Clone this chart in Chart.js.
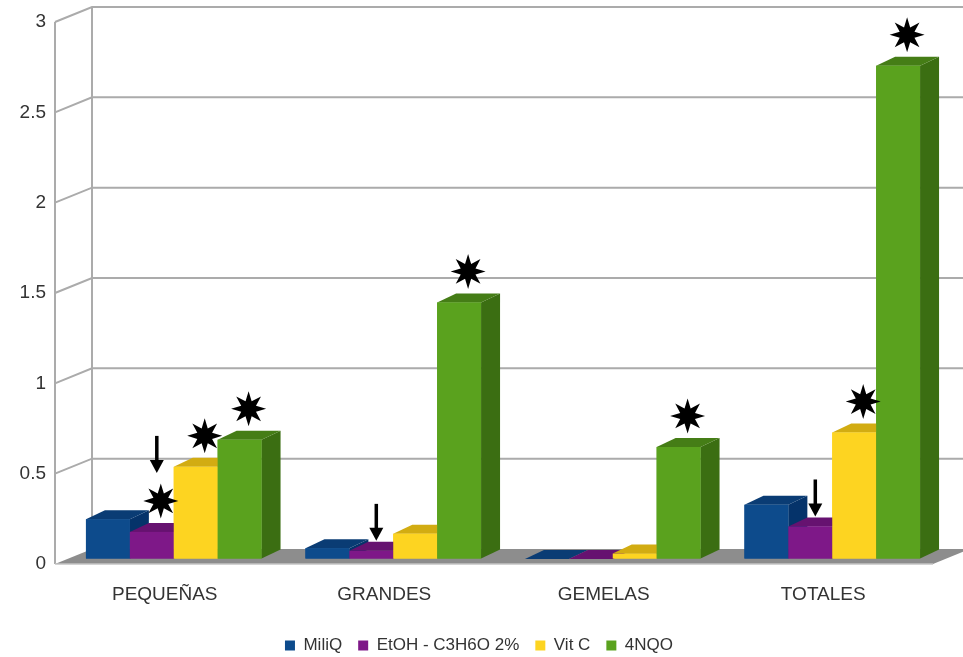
<!DOCTYPE html>
<html lang="es">
<head>
<meta charset="UTF-8" />
<title>Recuento por tipo</title>
<style>
  body { margin: 0; background: #fff; }
  #wrap { width: 963px; height: 657px; }
</style>
</head>
<body>
<div id="wrap"><canvas id="barChart" width="963" height="657"></canvas></div>
<script src="https://cdn.jsdelivr.net/npm/chart.js"></script>
<script>
const categories = ["PEQUEÑAS", "GRANDES", "GEMELAS", "TOTALES"];
const seriesNames = ["MiliQ", "EtOH - C3H6O 2%", "Vit C", "4NQO"];
const miliQ = [0.22, 0.06, 0, 0.30];
const etoh = [0.15, 0.045, 0, 0.18];
const vitC = [0.51, 0.14, 0.03, 0.70];
const nqo = [0.66, 1.42, 0.62, 2.73];
const yTicks = [0, 0.5, 1, 1.5, 2, 2.5, 3];

// significance marks, [series][category]
const starMarks = [[0, 0, 0, 0], [1, 0, 0, 0], [1, 0, 0, 1], [1, 1, 1, 1]];
const arrowMarks = [[0, 0, 0, 0], [1, 1, 0, 1], [0, 0, 0, 0], [0, 0, 0, 0]];

// front / side / top colours of each box
const faces = [
  { front: "#0d4b8c", side: "#05336a", top: "#0a3c74" },
  { front: "#7e1888", side: "#580e60", top: "#661270" },
  { front: "#fdd421", side: "#c8a20c", top: "#d2ac12" },
  { front: "#5aa21e", side: "#3b6e12", top: "#457d16" },
];

const DEPTH = { x: 19, y: -9 };  // box depth
const FRONT = { x: -9, y: 5 };   // front edge of the floor, relative to the bar plane
const BACK = { x: 28, y: -10 };  // back wall, relative to the bar plane

function poly(ctx, pts, color) {
  ctx.fillStyle = color;
  ctx.beginPath();
  ctx.moveTo(pts[0][0], pts[0][1]);
  for (let i = 1; i < pts.length; i++) ctx.lineTo(pts[i][0], pts[i][1]);
  ctx.closePath();
  ctx.fill();
}

function star(ctx, cx, cy, R, r) {
  ctx.fillStyle = "#000";
  ctx.beginPath();
  for (let i = 0; i < 16; i++) {
    const a = -Math.PI / 2 + i * Math.PI / 8;
    const rad = i % 2 === 0 ? R : r;
    const px = cx + rad * Math.cos(a), py = cy + rad * Math.sin(a);
    if (i === 0) ctx.moveTo(px, py); else ctx.lineTo(px, py);
  }
  ctx.closePath();
  ctx.fill();
}

function arrow(ctx, x, tipY) {
  ctx.fillStyle = "#000";
  ctx.fillRect(x - 1.75, tipY - 37, 3.5, 26);
  ctx.beginPath();
  ctx.moveTo(x - 7, tipY - 13);
  ctx.lineTo(x + 7, tipY - 13);
  ctx.lineTo(x, tipY);
  ctx.closePath();
  ctx.fill();
}

const walls3d = {
  id: "walls3d",
  afterLayout(chart) {
    // the legend row reserves trailing padding; nudge it back to the middle
    chart.legend.left += 8;
    chart.legend.right += 8;
  },
  beforeDatasetsDraw(chart) {
    const { ctx, chartArea: a, scales: { y } } = chart;
    const fl = a.left + FRONT.x, bl = a.left + BACK.x;
    const y0 = y.getPixelForValue(0);
    const yTop = y.getPixelForValue(yTicks[yTicks.length - 1]);
    ctx.save();
    ctx.strokeStyle = "#ababab";
    ctx.lineWidth = 2;
    yTicks.forEach((v) => {
      if (v === 0) return;
      const py = y.getPixelForValue(v);
      ctx.beginPath();
      ctx.moveTo(fl, py + FRONT.y);
      ctx.lineTo(bl, py + BACK.y);
      ctx.lineTo(chart.width, py + BACK.y);
      ctx.stroke();
    });
    ctx.beginPath();
    ctx.moveTo(fl, yTop + FRONT.y);
    ctx.lineTo(fl, y0 + FRONT.y);
    ctx.moveTo(bl, yTop + BACK.y);
    ctx.lineTo(bl, y0 + BACK.y);
    ctx.stroke();
    // floor
    poly(ctx, [
      [fl, y0 + FRONT.y],
      [a.right + FRONT.x, y0 + FRONT.y],
      [a.right + BACK.x, y0 + BACK.y],
      [bl, y0 + BACK.y],
    ], "#8d8d8d");
    ctx.strokeStyle = "#c4c4c4";
    ctx.lineWidth = 1.5;
    ctx.beginPath();
    ctx.moveTo(fl, y0 + FRONT.y);
    ctx.lineTo(a.right + FRONT.x, y0 + FRONT.y);
    ctx.stroke();
    ctx.restore();
  },
  afterDatasetsDraw(chart) {
    const { ctx } = chart;
    const metas = chart.data.datasets.map((d, i) => chart.getDatasetMeta(i));
    ctx.save();
    // boxes, left to right inside each group so nearer faces cover hidden ones
    categories.forEach((c, ci) => {
      metas.forEach((meta, si) => {
        const { x, y, base, width } = meta.data[ci].getProps(["x", "y", "base", "width"], true);
        const l = x - width / 2, r = x + width / 2;
        const f = faces[si];
        poly(ctx, [[r, y], [r + DEPTH.x, y + DEPTH.y], [r + DEPTH.x, base + DEPTH.y], [r, base]], f.side);
        poly(ctx, [[l, y], [r, y], [r + DEPTH.x, y + DEPTH.y], [l + DEPTH.x, y + DEPTH.y]], f.top);
        ctx.fillStyle = f.front;
        ctx.fillRect(l, y, width, base - y);
      });
    });
    // stars and arrows
    categories.forEach((c, ci) => {
      metas.forEach((meta, si) => {
        const { x, y } = meta.data[ci].getProps(["x", "y"], true);
        let tip = y - 10;
        if (starMarks[si][ci]) {
          const sy = y - 31;
          star(ctx, x + 9, sy, 17.5, 8);
          tip = sy - 28;
        }
        if (arrowMarks[si][ci]) arrow(ctx, x + 5, tip);
      });
    });
    ctx.restore();
  },
};

const seriesValues = [miliQ, etoh, vitC, nqo];

new Chart(document.getElementById("barChart"), {
  type: "bar",
  data: {
    labels: categories,
    datasets: seriesNames.map((name, i) => ({
      label: name,
      data: seriesValues[i],
      backgroundColor: faces[i].front,
      borderWidth: 0,
      categoryPercentage: 0.8,
      barPercentage: 1.0,
    })),
  },
  options: {
    responsive: false,
    animation: false,
    events: [],
    layout: { padding: { top: 17, right: 21, left: 0, bottom: 0 } },
    scales: {
      x: {
        grid: { display: false },
        border: { display: false },
        ticks: {
          padding: 16,
          labelOffset: -9,
          color: "#333",
          font: { family: "Liberation Sans", size: 19 },
        },
        afterFit: (s) => { s.height = 62; },
      },
      y: {
        min: 0,
        max: 3,
        // invisible tick marks keep the labels clear of the side wall
        grid: { display: true, drawOnChartArea: false, tickLength: 18, tickColor: "rgba(0,0,0,0)" },
        border: { display: false },
        afterBuildTicks: (s) => { s.ticks = yTicks.map((v) => ({ value: v })); },
        ticks: {
          padding: 0,
          labelOffset: 5,
          color: "#333",
          font: { family: "Liberation Sans", size: 19 },
          callback: (v) => String(v),
        },
        afterFit: (s) => { s.width = 64; },
      },
    },
    plugins: {
      tooltip: { enabled: false },
      legend: {
        position: "bottom",
        maxHeight: 36,
        labels: {
          boxWidth: 10,
          boxHeight: 10,
          padding: 16,
          color: "#333",
          font: { family: "Liberation Sans", size: 17 },
        },
      },
    },
  },
  plugins: [walls3d],
});
</script>
</body>
</html>
